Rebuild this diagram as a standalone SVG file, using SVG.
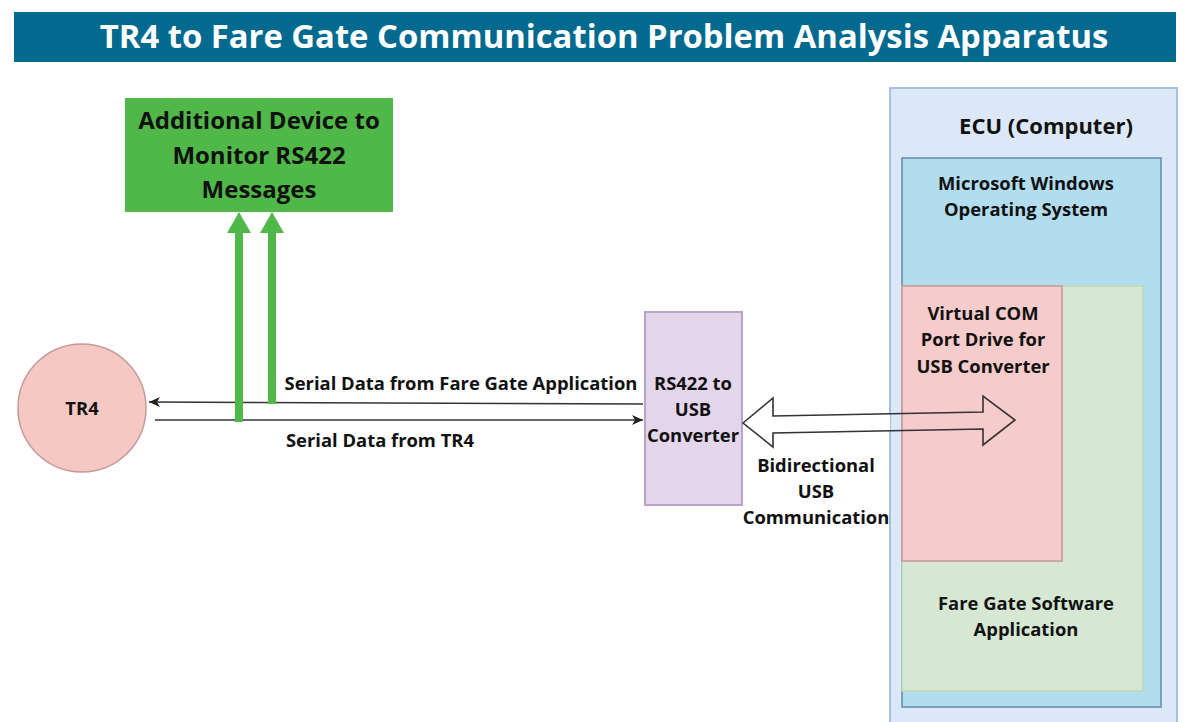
<svg xmlns="http://www.w3.org/2000/svg" width="1194" height="722" viewBox="0 0 1194 722">
<defs>
<style>
text{font-family:"Open Sans","Liberation Sans",sans-serif;font-weight:bold;fill:#111;text-anchor:middle}
.lbl{font-size:18.4px}
.title{font-size:32.8px;fill:#fff}
.box{font-size:24px}
.thin{stroke:#333;stroke-width:1.6;fill:none}
.green{fill:#50b848}
</style>
<marker id="ah" markerWidth="12" markerHeight="10" refX="11" refY="5" orient="auto" markerUnits="userSpaceOnUse">
<path d="M0,0 L11,5 L0,10 L3,5 Z" fill="#222"/>
</marker>
</defs>
<rect width="1194" height="722" fill="#fff"/>
<g id="title">
<rect x="14" y="12" width="1162" height="50" fill="#02698f"/>
<text class="title" x="604" y="48">TR4 to Fare Gate Communication Problem Analysis Apparatus</text>
</g>
<g id="ecu">
<rect x="890" y="88" width="287" height="650" fill="#dce8f8" stroke="#a8c0e0" stroke-width="2"/>
<text x="1046" y="134" style="font-size:22px">ECU (Computer)</text>
</g>
<g id="windows">
<rect x="902" y="158" width="259" height="549" fill="#b2ddef" stroke="#5f8aa6" stroke-width="1.5"/>
<text class="lbl" x="1026" y="190">Microsoft Windows</text>
<text class="lbl" x="1026" y="216">Operating System</text>
</g>
<g id="software">
<rect x="902" y="286" width="241" height="405" fill="#d6e8d3" stroke="#bcd8b2" stroke-width="1.5"/>
<text class="lbl" x="1026" y="610">Fare Gate Software</text>
<text class="lbl" x="1026" y="636">Application</text>
</g>
<g id="vcom">
<rect x="902" y="286" width="160" height="275" fill="#f5cbcb" stroke="#c49898" stroke-width="1.5"/>
<text class="lbl" x="983" y="320">Virtual COM</text>
<text class="lbl" x="983" y="346">Port Drive for</text>
<text class="lbl" x="983" y="373">USB Converter</text>
</g>
<g id="monitor">
<rect x="125" y="98" width="268" height="114" class="green"/>
<text class="box" x="259" y="129">Additional Device to</text>
<text class="box" x="259" y="164">Monitor RS422</text>
<text class="box" x="259" y="198">Messages</text>
</g>
<g id="tr4">
<circle cx="82" cy="408" r="64" fill="#f5c8c4" stroke="#c29a98" stroke-width="1.5"/>
<text class="lbl" x="82" y="415">TR4</text>
</g>
<g id="converter">
<rect x="645" y="312" width="97" height="193" fill="#e3d6eb" stroke="#b9a3c9" stroke-width="2"/>
<text class="lbl" x="693" y="390">RS422 to</text>
<text class="lbl" x="693" y="416">USB</text>
<text class="lbl" x="693" y="442">Converter</text>
</g>
<g id="connectors">
<line class="thin" x1="643" y1="404" x2="149" y2="402" marker-end="url(#ah)"/>
<line class="thin" x1="155" y1="420" x2="643" y2="420" marker-end="url(#ah)"/>
<path class="green" d="M235,422 L235,233 L227,233 L239,212 L251,233 L243,233 L243,422 Z"/>
<path class="green" d="M268,404 L268,233 L260,233 L272,212 L284,233 L276,233 L276,404 Z"/>
<path d="M743,423 L773,398 L773,416 L890,414 L890,431 L773,433 L773,447 Z" fill="#fff"/>
<path d="M743,423 L773,398 L773,416 L983,412 L983,396 L1015,420 L983,445 L983,429 L773,433 L773,447 Z" fill="none" stroke="#333" stroke-width="1.6"/>
</g>
<g id="labels">
<text class="lbl" x="461" y="390">Serial Data from Fare Gate Application</text>
<text class="lbl" x="380" y="447">Serial Data from TR4</text>
<text class="lbl" x="816" y="472">Bidirectional</text>
<text class="lbl" x="816" y="498">USB</text>
<text class="lbl" x="816" y="524">Communication</text>
</g>
</svg>
